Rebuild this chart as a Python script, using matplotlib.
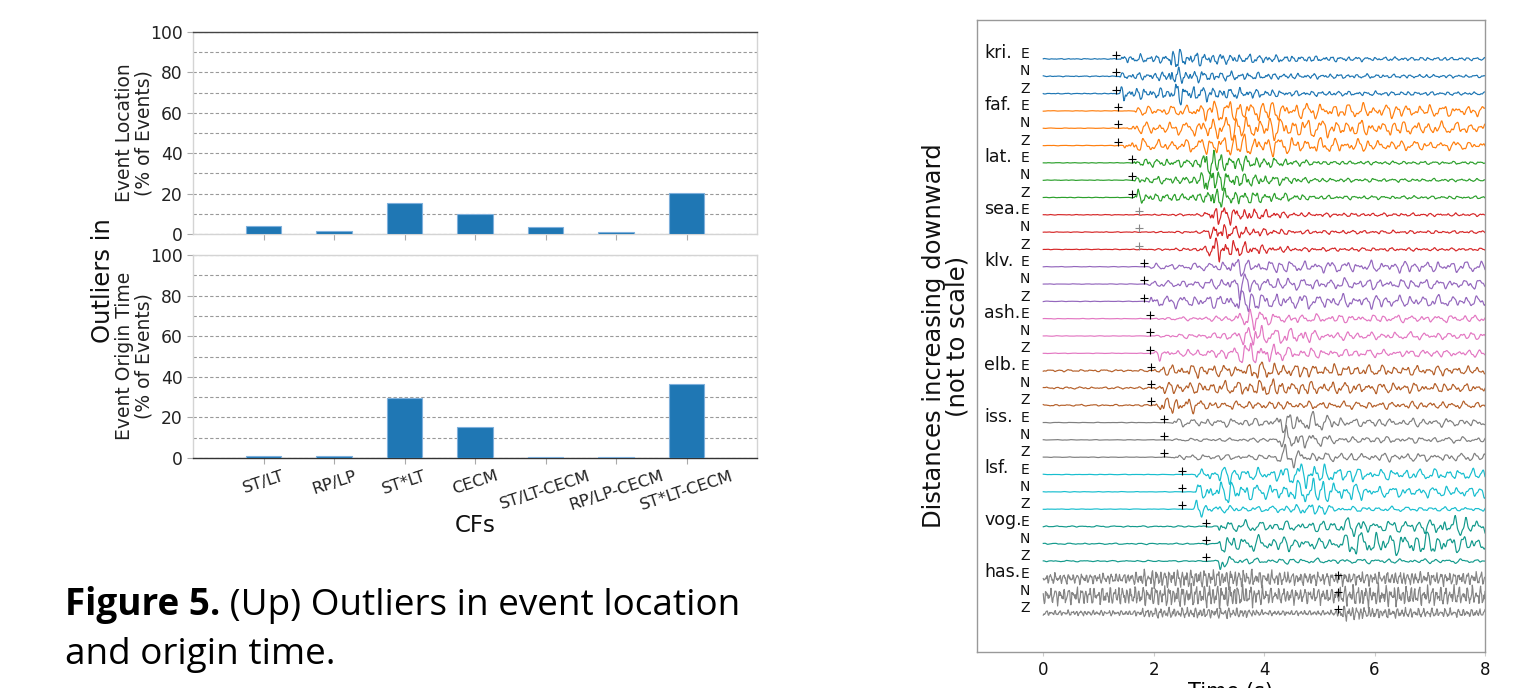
import numpy as np
import matplotlib
matplotlib.use("Agg")
import matplotlib.pyplot as plt

# ---------------- data: bar charts ----------------
cf_labels = ['ST/LT', 'RP/LP', 'ST*LT', 'CECM', 'ST/LT-CECM', 'RP/LP-CECM', 'ST*LT-CECM']
outliers_location = [4.1, 1.5, 15.3, 10.0, 3.5, 1.2, 20.3]
outliers_origin_time = [1.1, 1.1, 29.6, 15.1, 0.5, 0.5, 36.3]

# ---------------- data: seismograms ----------------
stations = ['kri.', 'faf.', 'lat.', 'sea.', 'klv.', 'ash.', 'elb.', 'iss.', 'lsf.', 'vog.', 'has.']
components = ['E', 'N', 'Z']
station_colors = ['#1f77b4', '#ff7f0e', '#2ca02c', '#d62728', '#9467bd', '#e377c2',
                  '#b5602a', '#7f7f7f', '#17becf', '#139a8c', '#858585']
pick_colors = ['k', 'k', 'k', '#888888', 'k', 'k', 'k', 'k', 'k', 'k', 'k']
pick_times = [1.32, 1.36, 1.61, 1.74, 1.83, 1.94, 1.95, 2.19, 2.52, 2.95, 5.34]
dominant_freq = [6.5, 4.5, 6.0, 6.0, 4.5, 4.5, 5.0, 4.5, 4.5, 4.2, 13.0]
time_ticks = [0, 2, 4, 6, 8]

# envelope keyframes (time s, half amplitude in px) per station, per component E/N/Z
envelopes = {
    'kri.': [[(0, .3), (1.38, .3), (1.42, 3), (2.25, 3), (2.35, 10), (2.5, 6), (3.2, 4), (4.5, 2.5), (6, 1.5), (8, 1.2)],
             [(0, .3), (1.38, .3), (1.42, 2.5), (2.2, 3), (2.32, 9), (2.5, 5), (3.2, 3.5), (4.5, 2), (8, 1)],
             [(0, .3), (1.38, .3), (1.43, 7), (1.6, 4), (2.3, 4), (2.4, 9), (2.6, 6), (3.5, 4), (4.5, 2), (8, 1.2)]],
    'faf.': [[(0, .2), (1.62, .2), (1.68, 3), (2.6, 4), (2.9, 8), (3.7, 8), (4.5, 6), (6, 5), (8, 4)],
             [(0, .2), (1.5, .2), (1.56, 4), (2.8, 5), (3.0, 9), (3.8, 9), (5.5, 6), (8, 4)],
             [(0, .2), (1.45, .2), (1.5, 6), (2.0, 4), (2.8, 5), (3.2, 9), (4.2, 7), (6, 4), (8, 3)]],
    'lat.': [[(0, .2), (1.62, .2), (1.67, 3), (2.8, 3), (2.98, 12), (3.2, 7), (4.0, 4), (5.0, 1.5), (8, 1)],
             [(0, .2), (1.62, .2), (1.67, 2.5), (2.8, 3), (3.0, 13), (3.2, 7), (4.0, 4), (5.0, 1.5), (8, 1)],
             [(0, .2), (1.65, .2), (1.7, 7), (1.9, 3), (2.9, 3), (3.05, 11), (3.3, 6), (4.0, 4), (5, 1.5), (8, 1)]],
    'sea.': [[(0, .2), (1.8, .3), (2.9, 1), (3.1, 8), (3.4, 6), (3.9, 4), (4.6, 1.5), (8, 1)],
             [(0, .2), (1.8, .3), (2.9, 1), (3.15, 8), (3.4, 5), (3.9, 3), (4.6, 1.5), (8, 1)],
             [(0, .2), (1.8, .3), (2.9, 1.5), (3.15, 10), (3.5, 6), (4.0, 3), (4.6, 1.5), (8, 1)]],
    'klv.': [[(0, .2), (1.88, .2), (1.92, 2), (3.2, 3), (3.45, 9), (3.7, 5), (5, 4), (8, 4)],
             [(0, .2), (1.88, .2), (1.92, 2), (3.3, 4), (3.55, 10), (3.8, 5), (5, 4), (8, 3.5)],
             [(0, .2), (1.9, .2), (1.98, 7), (2.2, 4), (3.3, 5), (3.6, 10), (4.0, 6), (5, 5), (8, 4)]],
    'ash.': [[(0, .2), (2.0, .2), (2.1, 1), (3.4, 2), (3.8, 10), (4.1, 4), (5, 3), (8, 2.5)],
             [(0, .2), (2.0, .2), (2.1, 1), (3.5, 3), (3.8, 12), (4.1, 5), (4.7, 7), (5.0, 3), (8, 2.5)],
             [(0, .2), (2.0, .2), (2.1, 5), (2.4, 2), (3.4, 4), (3.75, 10), (4.1, 8), (4.5, 4), (5.5, 3), (8, 2.5)]],
    'elb.': [[(0, .8), (2.0, .8), (2.1, 3), (2.6, 5), (3.5, 4), (3.9, 7), (4.3, 5), (6, 4), (8, 3)],
             [(0, .8), (2.0, .8), (2.1, 4), (3.5, 5), (4.0, 7), (4.5, 5), (6, 4), (8, 3)],
             [(0, .6), (2.0, .6), (2.1, 6), (2.6, 6), (3.0, 3), (8, 2.5)]],
    'iss.': [[(0, .2), (2.3, .2), (2.38, 3), (4.1, 3), (4.3, 8), (4.6, 7), (5.1, 7), (5.5, 3), (8, 3)],
             [(0, .2), (2.3, .2), (2.38, 1), (4.2, 1.5), (4.4, 9), (4.8, 6), (5.3, 2.5), (8, 2)],
             [(0, .2), (2.3, .2), (2.38, 2), (4.2, 2), (4.4, 9), (4.8, 4), (5.5, 3), (8, 3)]],
    'lsf.': [[(0, .2), (2.75, .2), (2.8, 4), (3.3, 6), (4.0, 4), (4.9, 10), (5.2, 6), (6, 4), (8, 4)],
             [(0, .2), (2.75, .2), (2.8, 6), (3.3, 9), (4.0, 5), (4.9, 10), (5.5, 7), (6, 4), (8, 4)],
             [(0, .2), (2.72, .2), (2.78, 7), (3.0, 3), (4.0, 2), (4.4, 3), (4.9, 5), (5.3, 2), (8, 1.5)]],
    'vog.': [[(0, .5), (3.15, .5), (3.2, 7), (3.5, 4), (5.3, 4), (5.6, 8), (6, 4), (7.0, 5), (7.2, 9), (8, 5)],
             [(0, .5), (3.15, .5), (3.2, 9), (3.6, 6), (5.3, 4), (5.7, 10), (6.5, 8), (7.2, 8), (8, 5)],
             [(0, .5), (3.15, .5), (3.2, 8), (3.4, 3), (4, 2), (8, 1.5)]],
    'has.': [[(0, 4), (1.5, 4), (2.0, 7), (3.5, 7), (4.5, 5), (8, 5)],
             [(0, 6), (1.2, 7), (3.5, 9), (4.2, 6), (5.3, 6), (5.5, 8), (8, 7)],
             [(0, 2), (1.6, 2), (2.0, 4), (3.5, 4), (4.0, 2), (5.3, 2), (5.4, 6), (6.0, 4), (8, 3)]],
}

PX_PER_TRACE = 17.3

fig = plt.figure(figsize=(15.2, 6.88), dpi=100)
W, H = 1520.0, 688.0
def rect(l, t, r, b):
    return [l / W, 1 - b / H, (r - l) / W, (b - t) / H]

# ---------------- left: bar charts ----------------
ax1 = fig.add_axes(rect(193, 32, 757, 234))
ax2 = fig.add_axes(rect(193, 255, 757, 458))
xpos = np.arange(len(cf_labels))
for ax, vals in ((ax1, outliers_location), (ax2, outliers_origin_time)):
    ax.bar(xpos, vals, width=0.5, color='#1f77b4', edgecolor='#7fb0dc', linewidth=0.8, zorder=3)
    ax.set_xlim(-1, 7)
    ax.set_ylim(0, 100)
    ax.set_yticks([0, 20, 40, 60, 80, 100])
    ax.set_yticks([10, 30, 50, 70, 90], minor=True)
    ax.yaxis.grid(True, which='both', linestyle=(0, (3, 2)), color='#999999', linewidth=0.8, zorder=0)
    ax.set_xticks(xpos)
    ax.tick_params(axis='both', which='major', length=4, color='#aaaaaa', labelsize=12.3,
                   labelcolor='#222222', width=0.8)
    ax.tick_params(axis='y', which='minor', length=0)
    for s in ax.spines.values():
        s.set_color('#d4d4d4')
        s.set_linewidth(1.0)
ax1.spines['top'].set_color('#444444')
ax2.spines['bottom'].set_color('#333333')
ax1.set_xticklabels([])
ax2.set_xticklabels(cf_labels, rotation=18, ha='center', fontsize=11.8)

fig.text(134 / W, 1 - 133 / H, 'Event Location\n(% of Events)', rotation=90, ha='center', va='center',
         fontsize=13.5, color='#222222', linespacing=1.0)
fig.text(134 / W, 1 - 356 / H, 'Event Origin Time\n(% of Events)', rotation=90, ha='center', va='center',
         fontsize=13.5, color='#222222', linespacing=1.0)
fig.text(103 / W, 1 - 281 / H, 'Outliers in', rotation=90, ha='center', va='center',
         fontsize=17.5, color='#111111')
fig.text(475 / W, 1 - 525 / H, 'CFs', ha='center', va='center', fontsize=16.5, color='#111111')

# caption (font size fitted so the first line spans the same width as the reference)
cap_fs = 23
cap_font = 'Open Sans'
fig.canvas.draw()
r = fig.canvas.get_renderer()
tb = fig.text(0, 0, 'Figure 5.', fontsize=cap_fs, fontweight='bold', family=cap_font)
tr = fig.text(0, 0, ' (Up) Outliers in event location', fontsize=cap_fs, family=cap_font)
wtot = tb.get_window_extent(r).width + tr.get_window_extent(r).width
tb.remove(); tr.remove()
cap_fs = cap_fs * 678.0 / wtot
t1 = fig.text(65 / W, 1 - 615 / H, 'Figure 5.', fontsize=cap_fs, fontweight='bold', family=cap_font,
              ha='left', va='baseline', color='#000000')
bb = t1.get_window_extent(r)
fig.text(bb.x1 / W, 1 - 615 / H, ' (Up) Outliers in event location', fontsize=cap_fs, family=cap_font,
         ha='left', va='baseline', color='#000000')
fig.text(65 / W, 1 - 664 / H, 'and origin time.', fontsize=cap_fs, family=cap_font,
         ha='left', va='baseline', color='#000000')

# ---------------- right: seismograms ----------------
ax3 = fig.add_axes(rect(977, 20, 1485, 652))
t = np.arange(0, 8.0001, 0.01)
n_tr = len(stations) * 3
for si, st in enumerate(stations):
    f = dominant_freq[si]
    for ci, comp in enumerate(components):
        k = si * 3 + ci
        kf = np.array(envelopes[st][ci])
        env = np.interp(t, kf[:, 0], kf[:, 1]) / PX_PER_TRACE
        ph = 0.9 * k + 0.3
        pm = 1.6 * np.sin(2 * np.pi * 0.41 * t + 0.7 * k)
        carrier = (np.sin(2 * np.pi * f * t + ph + pm)
                   + 0.55 * np.sin(2 * np.pi * 1.57 * f * t + 2.1 * k - pm)
                   + 0.4 * np.sin(2 * np.pi * 0.63 * f * t + 1.3 * k + 0.5)
                   + 0.35 * np.sin(2 * np.pi * 2.31 * f * t + 0.4 * k + pm)
                   + 0.28 * np.sin(2 * np.pi * 3.7 * f * t + 1.7 * k)) / 1.4
        ax3.plot(t, k - env * carrier, color=station_colors[si], lw=0.85)
        ax3.plot([pick_times[si]], [k - 0.22], marker='+', color=pick_colors[si],
                 markersize=6, mew=0.8, linestyle='none', zorder=5)
        ax3.text(-0.33, k - 0.28, comp, ha='center', va='center', fontsize=10, color='#111111')
    ax3.text(-1.07, si * 3 - 0.35, st, ha='left', va='center', fontsize=12.5, color='#111111')

ax3.set_xlim(-1.2, 8)
ax3.set_ylim(n_tr - 1 + 2.25, -2.25)
ax3.set_yticks([])
ax3.set_xticks(time_ticks)
ax3.tick_params(axis='x', length=3, color='#cccccc', labelsize=12, labelcolor='#111111')
for s in ax3.spines.values():
    s.set_color('#999999')
    s.set_linewidth(1.0)
ax3.set_xlabel('Time (s)', fontsize=15, labelpad=2)
fig.text(946 / W, 1 - 336 / H, 'Distances increasing downward\n(not to scale)', rotation=90,
         ha='center', va='center', fontsize=17.5, color='#111111', linespacing=1.0)

fig.savefig('out.png', dpi=100)
